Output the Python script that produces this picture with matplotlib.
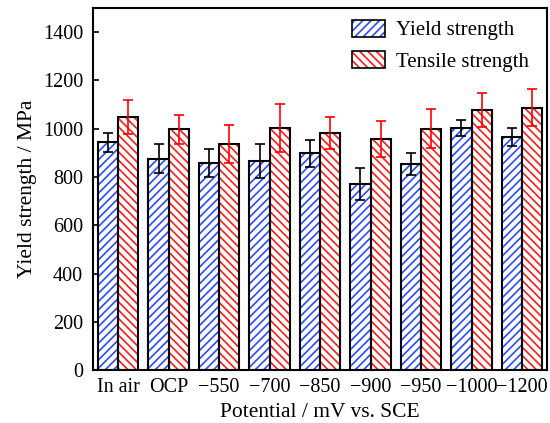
import matplotlib
matplotlib.use('Agg')
import matplotlib.pyplot as plt
from matplotlib.patches import Patch
from matplotlib.legend_handler import HandlerTuple
import numpy as np

plt.rcParams['font.family'] = ['Liberation Serif', 'DejaVu Serif']
plt.rcParams['hatch.linewidth'] = 1.2
plt.rcParams['axes.unicode_minus'] = True

categories = ['In air', 'OCP', '\u2212550', '\u2212700', '\u2212850', '\u2212900', '\u2212950', '\u22121000', '\u22121200']
yield_vals = [943, 876, 858, 866, 898, 770, 855, 1003, 964]
yield_err = [40, 60, 58, 70, 57, 67, 45, 35, 37]
tensile_vals = [1048, 998, 936, 1002, 982, 956, 1000, 1077, 1087]
tensile_err = [70, 60, 80, 100, 66, 75, 80, 70, 76]

x = np.arange(len(categories))
w = 0.4

fig = plt.figure(figsize=(5.5, 4.23), dpi=100)
ax = fig.add_axes([0.169, 0.125, 0.826, 0.856])

# hatch fill first, then black outline on top
ax.bar(x - w/2, yield_vals, w, color='white', edgecolor='#2a4bff', hatch='////', linewidth=0)
ax.bar(x + w/2, tensile_vals, w, color='white', edgecolor='#ff1a1a', hatch='\\\\\\\\', linewidth=0)
ax.bar(x - w/2, yield_vals, w, fill=False, edgecolor='black', linewidth=1.5)
ax.bar(x + w/2, tensile_vals, w, fill=False, edgecolor='black', linewidth=1.5)

ax.errorbar(x - w/2, yield_vals, yerr=yield_err, fmt='none', ecolor='black', elinewidth=1.2, capsize=3.5, capthick=1.2)
ax.errorbar(x + w/2, tensile_vals, yerr=tensile_err, fmt='none', ecolor='red', elinewidth=1.2, capsize=3.5, capthick=1.2)

ax.set_xlim(-0.5, len(categories) - 0.5)
ax.set_ylim(0, 1500)
ax.set_yticks(range(0, 1500, 200))
ax.set_xticks(x)
ax.set_xticklabels(categories)
ax.tick_params(axis='y', direction='in', length=4, width=1.2, labelsize=14.5, pad=7)
ax.tick_params(axis='x', length=0, labelsize=14.5, pad=6)
for s in ax.spines.values():
    s.set_linewidth(1.5)

ax.set_xlabel('Potential / mV vs. SCE', fontsize=15.5, labelpad=4)
ax.set_ylabel('Yield strength / MPa', fontsize=15.5, labelpad=4)

h1 = (Patch(facecolor='white', edgecolor='#2a4bff', hatch='////', linewidth=0),
      Patch(fill=False, edgecolor='black', linewidth=1.2))
h2 = (Patch(facecolor='white', edgecolor='#ff1a1a', hatch='\\\\\\\\', linewidth=0),
      Patch(fill=False, edgecolor='black', linewidth=1.2))
ax.legend([h1, h2], ['Yield strength', 'Tensile strength'],
          handler_map={tuple: HandlerTuple(ndivide=1, pad=0)},
          loc='upper right', bbox_to_anchor=(1.0, 1.02), frameon=False, fontsize=15,
          handlelength=1.6, handleheight=0.9, handletextpad=0.5, labelspacing=0.5)

fig.savefig('out.png', dpi=100)
